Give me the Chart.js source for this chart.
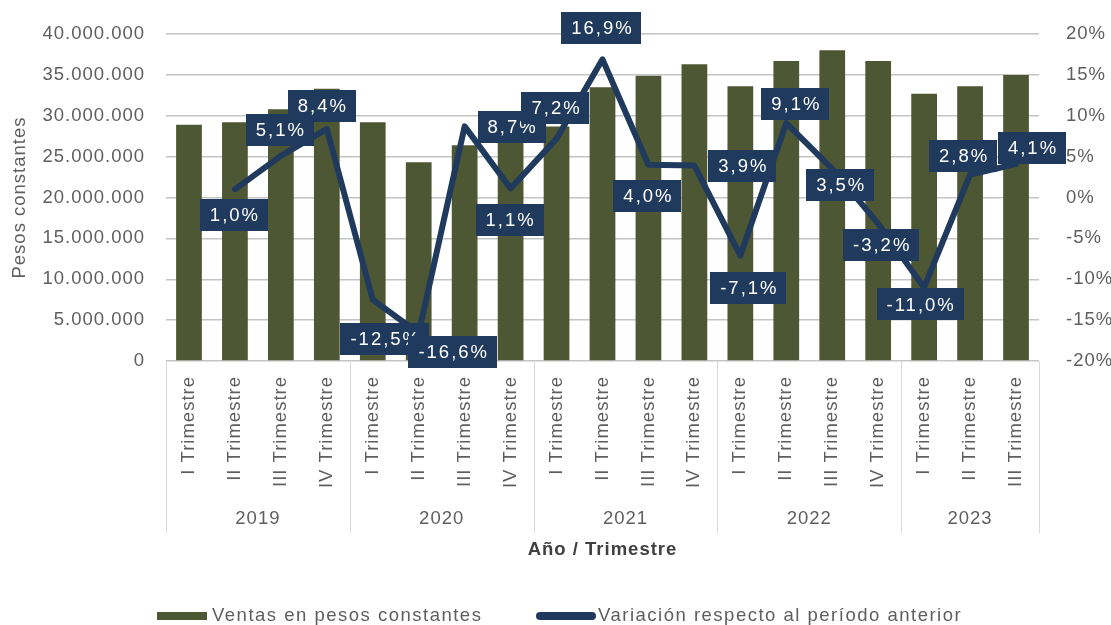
<!DOCTYPE html>
<html>
<head>
<meta charset="utf-8">
<script src="https://cdn.jsdelivr.net/npm/chart.js@4/dist/chart.umd.min.js"></script>
<style>
  html, body { margin: 0; padding: 0; background: #ffffff; }
  #wrap { width: 1111px; height: 625px; position: relative; }
</style>
</head>
<body>
<div id="wrap"><canvas id="c" width="1111" height="625"></canvas></div>
<script>
// ---- Data ----
const categories = [
  'I Trimestre','II Trimestre','III Trimestre','IV Trimestre',
  'I Trimestre','II Trimestre','III Trimestre','IV Trimestre',
  'I Trimestre','II Trimestre','III Trimestre','IV Trimestre',
  'I Trimestre','II Trimestre','III Trimestre','IV Trimestre',
  'I Trimestre','II Trimestre','III Trimestre'
];
const years = ['2019', '2020', '2021', '2022', '2023'];
const quartersPerYear = [4, 4, 4, 4, 3];
const ventas = [
  28900000, 29200000, 30800000, 33300000,
  29200000, 24300000, 26400000, 28000000,
  28700000, 33500000, 34900000, 36300000,
  33600000, 36700000, 38000000, 36700000,
  32700000, 33600000, 35000000
];
const variacion = [
  null, 1.0, 5.1, 8.4,
  -12.5, -16.6, 8.7, 1.1,
  7.2, 16.9, 4.0, 3.9,
  -7.1, 9.1, 3.5, -3.2,
  -11.0, 2.8, 4.1
];
const seriesNames = ['Ventas en pesos constantes', 'Variación respecto al período anterior'];
const leftTicks = { min: 0, max: 40000000, step: 5000000 };
const rightTicks = { min: -20, max: 20, step: 5 };
const xTitle = 'Año / Trimestre';
const yTitle = 'Pesos constantes';

// ---- Styles ----
const BAR_COLOR = '#4E5733';
const LINE_COLOR = '#203A5E';
const TEXT_COLOR = '#5E5E5E';
const GRID_COLOR = '#C4C4C4';
const SEP_COLOR = '#D9D9D9';
const FONT = '"Liberation Sans", Arial, sans-serif';
const FS = 18.5;
// label box offsets relative to each line point (dx, dy)
const labelOffsets = [
  null, [-1, 26], [-1, -26], [-5, -23],
  [12, 39], [34, 19], [47, 1], [-1, 31],
  [-1, -31], [-1, -31], [-1, 31], [48, 0],
  [8, 32], [9, -19], [8, 16], [3, 21],
  [-4, 17], [-7, -19], [16, -16]
];

function fmtThousands(v) {
  return String(Math.round(v)).replace(/\B(?=(\d{3})+(?!\d))/g, '.');
}
function fmtPct(v) {
  return v.toFixed(1).replace('.', ',') + '%';
}

const spacingPlugin = {
  id: 'spacing',
  beforeLayout(chart) { chart.ctx.letterSpacing = '1px'; },
  beforeDraw(chart) { chart.ctx.letterSpacing = '1px'; }
};

const decorPlugin = {
  id: 'decor',
  afterDraw(chart) {
    const ctx = chart.ctx;
    const x = chart.scales.x;
    const area = chart.chartArea;
    ctx.save();
    ctx.letterSpacing = '1px';
    // year group separators and labels
    const half = (x.getPixelForValue(1) - x.getPixelForValue(0)) / 2;
    let idx = 0;
    ctx.strokeStyle = SEP_COLOR;
    ctx.lineWidth = 1;
    const sepBottom = area.bottom + 172;
    const drawSep = (px) => {
      ctx.beginPath();
      ctx.moveTo(Math.round(px) + 0.5, area.bottom);
      ctx.lineTo(Math.round(px) + 0.5, sepBottom);
      ctx.stroke();
    };
    drawSep(x.getPixelForValue(0) - half);
    ctx.fillStyle = TEXT_COLOR;
    ctx.font = FS + 'px ' + FONT;
    ctx.textAlign = 'center';
    ctx.textBaseline = 'middle';
    years.forEach((yr, g) => {
      const n = quartersPerYear[g];
      const start = x.getPixelForValue(idx) - half;
      const end = x.getPixelForValue(idx + n - 1) + half;
      drawSep(end);
      ctx.fillText(yr, (start + end) / 2, area.bottom + 158);
      idx += n;
    });
    // x axis title
    ctx.fillStyle = '#404040';
    ctx.font = 'bold ' + FS + 'px ' + FONT;
    ctx.fillText(xTitle, (area.left + area.right) / 2, area.bottom + 189);
    // y axis title
    ctx.save();
    ctx.translate(20, (area.top + area.bottom) / 2);
    ctx.rotate(-Math.PI / 2);
    ctx.fillStyle = TEXT_COLOR;
    ctx.font = FS + 'px ' + FONT;
    ctx.fillText(yTitle, 0, 0);
    ctx.restore();
    // legend
    const ly = area.bottom + 255;
    ctx.letterSpacing = '1.5px';
    ctx.fillStyle = BAR_COLOR;
    ctx.fillRect(157, ly - 4, 50, 8);
    ctx.fillStyle = TEXT_COLOR;
    ctx.font = FS + 'px ' + FONT;
    ctx.textAlign = 'left';
    ctx.fillText(seriesNames[0], 212, ly);
    ctx.strokeStyle = LINE_COLOR;
    ctx.lineWidth = 8;
    ctx.lineCap = 'round';
    ctx.beginPath();
    ctx.moveTo(540, ly);
    ctx.lineTo(592, ly);
    ctx.stroke();
    ctx.fillText(seriesNames[1], 598, ly);
    ctx.restore();
  },
  afterDatasetsDraw(chart) {
    const ctx = chart.ctx;
    const meta = chart.getDatasetMeta(1);
    ctx.save();
    ctx.letterSpacing = '2px';
    ctx.font = FS + 'px ' + FONT;
    ctx.textAlign = 'center';
    ctx.textBaseline = 'middle';
    meta.data.forEach((pt, i) => {
      const v = variacion[i];
      if (v === null || v === undefined || !labelOffsets[i]) return;
      const txt = fmtPct(v);
      const w = ctx.measureText(txt).width + 18;
      const h = 32;
      const cx = pt.x + labelOffsets[i][0];
      const cy = pt.y + labelOffsets[i][1];
      ctx.fillStyle = LINE_COLOR;
      ctx.fillRect(Math.round(cx - w / 2), Math.round(cy - h / 2), Math.round(w), h);
      ctx.fillStyle = '#FFFFFF';
      ctx.fillText(txt, cx + 1, cy + 1);
    });
    ctx.restore();
  }
};

new Chart(document.getElementById('c'), {
  data: {
    labels: categories,
    datasets: [
      {
        type: 'bar',
        label: seriesNames[0],
        data: ventas,
        backgroundColor: BAR_COLOR,
        yAxisID: 'y',
        categoryPercentage: 1,
        barPercentage: 0.56,
        order: 1
      },
      {
        type: 'line',
        label: seriesNames[1],
        data: variacion,
        borderColor: LINE_COLOR,
        borderWidth: 6,
        borderJoinStyle: 'round',
        borderCapStyle: 'round',
        pointRadius: 0,
        tension: 0,
        yAxisID: 'y1',
        order: 0
      }
    ]
  },
  options: {
    responsive: false,
    animation: false,
    devicePixelRatio: 1,
    layout: { padding: { top: 34, left: 0, right: 0, bottom: 0 } },
    plugins: { legend: { display: false }, tooltip: { enabled: false }, title: { display: false } },
    scales: {
      x: {
        grid: { display: false },
        border: { display: false },
        ticks: {
          autoSkip: false, maxRotation: 90, minRotation: 90, padding: 7,
          color: TEXT_COLOR, font: { family: FONT, size: FS }
        },
        afterFit(s) { s.height = 264; }
      },
      y: {
        position: 'left',
        min: leftTicks.min, max: leftTicks.max,
        grid: { color: GRID_COLOR, drawTicks: false, lineWidth: 1.5 },
        border: { display: false },
        ticks: {
          stepSize: leftTicks.step, padding: 21, color: TEXT_COLOR,
          font: { family: FONT, size: FS },
          callback: v => fmtThousands(v)
        },
        afterFit(s) { s.width = 166; }
      },
      y1: {
        position: 'right',
        min: rightTicks.min, max: rightTicks.max,
        grid: { display: false },
        border: { display: false },
        ticks: {
          stepSize: rightTicks.step, padding: 19, color: TEXT_COLOR,
          font: { family: FONT, size: FS },
          callback: v => v + '%'
        },
        afterFit(s) { s.width = 72; }
      }
    }
  },
  plugins: [spacingPlugin, decorPlugin]
});
</script>
</body>
</html>
